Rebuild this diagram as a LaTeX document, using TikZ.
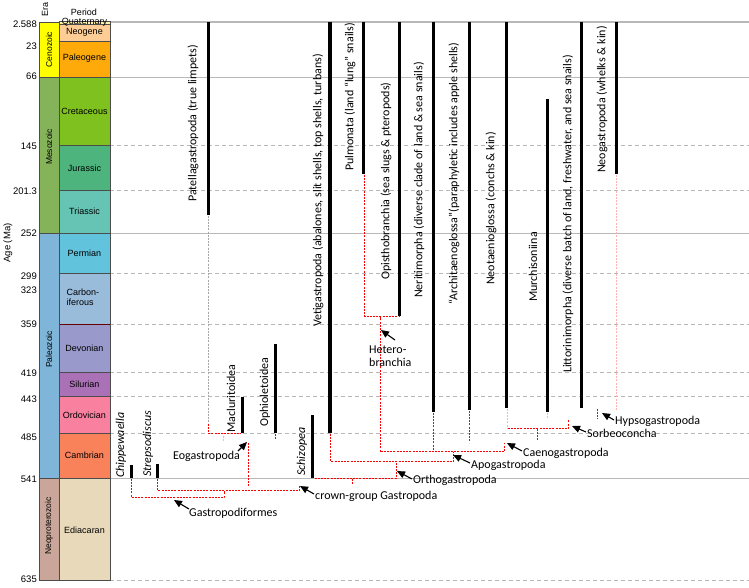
\documentclass[tikz,border=0pt]{standalone}
\usepackage{fontspec}
\setmainfont{Carlito}
\newfontfamily\ars{Liberation Sans}
\usetikzlibrary{arrows.meta}
\definecolor{cQua}{HTML}{FFF2AE}
\definecolor{cNeo}{HTML}{FDCD95}
\definecolor{cPal}{HTML}{FDAA0A}
\definecolor{cCre}{HTML}{7FC11E}
\definecolor{cJur}{HTML}{4DB47E}
\definecolor{cTri}{HTML}{66C4B4}
\definecolor{cPer}{HTML}{62C3DD}
\definecolor{cCar}{HTML}{98BCDA}
\definecolor{cDev}{HTML}{9A99CB}
\definecolor{cSil}{HTML}{AA71B6}
\definecolor{cOrd}{HTML}{FA80A0}
\definecolor{cCam}{HTML}{FA825A}
\definecolor{cEdi}{HTML}{E8D9BB}
\definecolor{eCen}{HTML}{FFFF00}
\definecolor{eMes}{HTML}{85B35A}
\definecolor{ePal}{HTML}{7EB5D9}
\definecolor{eNeo}{HTML}{C9A699}
\begin{document}
\begin{tikzpicture}[x=1pt,y=-1pt,
  per/.style={draw=black!70,line width=0.7pt},
  agel/.style={anchor=east,font=\ars\fontsize{9.5}{10}\selectfont,inner sep=0pt},
  perl/.style={font=\ars\fontsize{9}{10}\selectfont,inner sep=0pt},
  eral/.style={rotate=90,font=\ars\fontsize{8.5}{10}\selectfont,inner sep=0pt},
  taxon/.style={rotate=90,anchor=west,inner sep=0pt,font=\fontsize{12}{14}\selectfont},
  ital/.style={font=\itshape\fontsize{12}{14}\selectfont},
  clade/.style={anchor=west,inner sep=0pt,font=\fontsize{12}{14}\selectfont},
  tbar/.style={line width=3pt},
  crisp/.style={shift={(0.5,0.5)}},
  rdot/.style={crisp,draw=red,line width=1.2pt,dash pattern=on 2pt off 1.2pt},
  pdot/.style={crisp,draw=red!30,line width=1.1pt,dash pattern=on 2pt off 1.2pt},
  gdot/.style={crisp,draw=black!35,line width=1pt,dash pattern=on 2pt off 1.2pt},
  gsolid/.style={draw=black!28,line width=0.9pt},
  gdash/.style={draw=black!28,line width=0.9pt,dash pattern=on 4pt off 3pt},
  arr/.style={-{Triangle[length=8pt,width=7pt]},line width=1.1pt},
]
\useasboundingbox (0,0) rectangle (749,587);
\fill[white] (0,0) rectangle (749,587);

% ---------- grid lines ----------
\draw[gsolid] (110,77) -- (749,77);
\draw[gsolid] (110,233) -- (749,233);
\draw[gsolid] (110,478) -- (749,478);
\foreach \yy in {145,190,273,324,372,396,433,580}
  \draw[gdash] (110,\yy) -- (749,\yy);
\draw[draw=black!28,line width=1.8pt] (108,22) -- (749,22);

% ---------- era column ----------
\draw[per,fill=eCen] (39.5,22) rectangle (59.5,77);
\draw[per,fill=eMes] (39.5,77) rectangle (59.5,233);
\draw[per,fill=ePal] (39.5,233) rectangle (59.5,478);
\draw[per,fill=eNeo] (39.5,478) rectangle (59.5,580);
\node[eral] (cen) at (49,49.5) {Cenozoic};
\node[eral] (mes) at (49,147) {Mesozoic};
\node[eral] (pal) at (49,349.5) {Paleozoic};
\node[eral] (npr) at (49,526) {Neoproterozoic};

% ---------- period column ----------
\draw[per,fill=cNeo] (59.5,24) rectangle (110,41.5);
\draw[per,fill=cPal] (59.5,41.5) rectangle (110,77);
\draw[per,fill=cCre] (59.5,77) rectangle (110,145);
\draw[per,fill=cJur] (59.5,145) rectangle (110,190);
\draw[per,fill=cTri] (59.5,190) rectangle (110,233);
\draw[per,fill=cPer] (59.5,233) rectangle (110,273);
\draw[per,fill=cCar] (59.5,273) rectangle (110,324);
\draw[per,fill=cDev] (59.5,324) rectangle (110,372);
\draw[per,fill=cSil] (59.5,372) rectangle (110,396);
\draw[per,fill=cOrd] (59.5,396) rectangle (110,433);
\draw[per,fill=cCam] (59.5,433) rectangle (110,478);
\draw[per,fill=cEdi] (59.5,478) rectangle (110,580);
\draw[per,fill=cQua] (59.5,21.5) rectangle (110,24);
\draw[draw=black!60!red,line width=0.8pt] (59.5,324) -- (110,324);
\node[perl] (qua) at (84.5,22.5) {Quaternary};
\node[perl] (neo) at (84.5,32.5) {Neogene};
\node[perl] (pgn) at (84.5,58) {Paleogene};
\node[perl] (cre) at (84.5,111) {Cretaceous};
\node[perl] (jur) at (84.5,168) {Jurassic};
\node[perl] (tri) at (84.5,211.5) {Triassic};
\node[perl] (prm) at (84.5,253) {Permian};
\node[perl,anchor=west,align=left] (car) at (66.5,297.5) {Carbon-\\iferous};
\node[perl] (dev) at (84.5,348) {Devonian};
\node[perl] (sil) at (84.5,384) {Silurian};
\node[perl] (ord) at (84.5,415) {Ordovician};
\node[perl] (cam) at (84.5,455) {Cambrian};
\node[perl] (edi) at (84.5,530) {Ediacaran};

% ---------- headers and ages ----------
\node[eral,font=\ars\fontsize{9}{10}\selectfont] (era) at (45,9) {Era};
\node[perl] (period) at (84,12) {Period};
\node[rotate=90,inner sep=0pt,font=\ars\fontsize{9.5}{10}\selectfont] (age) at (8,243) {Age (Ma)};
\node[agel] (a1) at (37,24) {2.588};
\node[agel] (a2) at (37,46) {23};
\node[agel] (a3) at (37,76) {66};
\node[agel] (a4) at (37,146) {145};
\node[agel] (a5) at (37,191) {201.3};
\node[agel] (a6) at (37,233) {252};
\node[agel] (a7) at (37,276) {299};
\node[agel] (a8) at (37,290) {323};
\node[agel] (a9) at (37,324) {359};
\node[agel] (a10) at (37,373) {419};
\node[agel] (a11) at (37,399) {443};
\node[agel] (a12) at (37,437) {485};
\node[agel] (a13) at (37,479) {541};
\node[agel] (a14) at (37,579) {635};

% ---------- cladogram dotted lines ----------
\draw[gdot] (208,215) -- (208,423);
\draw[pdot] (223,435) -- (223,440);
\draw[pdot] (507,408) -- (507,428);
\draw[pdot] (547,412) -- (547,418);
\draw[pdot] (616,174) -- (616,410);
\draw[rdot] (131,478) -- (131,497) -- (224,497) -- (224,490);
\draw[rdot] (157,478) -- (157,490) -- (299,490) -- (299,485);
\draw[rdot] (248,442) -- (248,485);
\draw[rdot] (208,423) -- (208,433) -- (240,433);
\draw[rdot] (275,433) -- (275,438);
\draw[rdot] (314,478) -- (396,478) -- (396,461);
\draw[rdot] (352,478) -- (352,483);
\draw[rdot] (330,433) -- (330,461) -- (453,461) -- (453,451);
\draw[rdot] (380,451) -- (504,451) -- (504,442);
\draw[rdot] (380,451) -- (380,316);
\draw[rdot] (364,174) -- (364,316) -- (399,316);
\draw[rdot] (433,412) -- (433,451);
\draw[rdot] (469,410) -- (469,442);
\draw[rdot] (507,428) -- (568,428) -- (568,419);
\draw[rdot] (537,428) -- (537,440);
\draw[rdot] (597,408) -- (597,418);

% ---------- range bars ----------
\draw[tbar] (131,465) -- (131,478);
\draw[tbar] (157,464) -- (157,478);
\draw[tbar] (208,22) -- (208,215);
\draw[tbar] (242,397) -- (242,433);
\draw[tbar] (275,344) -- (275,433);
\draw[tbar] (312,415) -- (312,478);
\draw[line width=3.5pt] (330,22) -- (330,433);
\draw[tbar] (363,22) -- (363,174);
\draw[tbar] (399,22) -- (399,316);
\draw[tbar] (433,22) -- (433,412);
\draw[tbar] (469,22) -- (469,410);
\draw[tbar] (506,22) -- (506,408);
\draw[tbar] (547,99) -- (547,412);
\draw[tbar] (581,22) -- (581,408);
\draw[tbar] (616,22) -- (616,174);

% ---------- taxon labels ----------
\node[taxon,ital] (chip) at (121,478) {Chippewaella};
\node[taxon,ital] (strep) at (148,477) {Strepsodiscus};
\node[taxon] (maclu) at (231,433) {Macluritoidea};
\node[taxon] (ophio) at (265,427) {Ophioletoidea};
\node[taxon,ital] (schiz) at (302,476) {Schizopea};
\node[taxon] (veti) at (318,327) {Vetigastropoda (abalones, slit shells, top shells, turbans)};
\node[taxon] (patel) at (193,202) {Patellagastropoda (true limpets)};
\node[taxon] (pulmo) at (350,171) {Pulmonata (land “lung” snails)};
\node[taxon] (opist) at (386,280) {Opisthobranchia (sea slugs \& pteropods)};
\node[taxon] (nerit) at (419,298) {Neritimorpha (diverse clade of land \& sea snails)};
\node[taxon] (archi) at (454,305) {“Architaenoglossa”(paraphyletic includes apple shells)};
\node[taxon] (neota) at (491,285) {Neotaenioglossa (conchs \& kin)};
\node[taxon] (murch) at (533,302) {Murchisoniina};
\node[taxon] (litto) at (568,373) {Littorinimorpha (diverse batch of land, freshwater, and sea snails)};
\node[taxon] (neoga) at (602,173) {Neogastropoda (whelks \& kin)};

% ---------- clade labels and arrows ----------
\node[clade] (gpf) at (189,513) {Gastropodiformes};
\node[clade] (crown) at (315,496) {crown-group Gastropoda};
\node[clade] (eogas) at (173,456) {Eogastropoda};
\node[clade] (ortho) at (413,480) {Orthogastropoda};
\node[clade] (apoga) at (471,465) {Apogastropoda};
\node[clade] (caeno) at (523,453) {Caenogastropoda};
\node[clade] (sorbe) at (587,433) {Sorbeoconcha};
\node[clade] (hypso) at (615,421) {Hypsogastropoda};
\node[clade,align=left] (hetero) at (369,356) {Hetero-\\[-1pt]branchia};

\coordinate (gpfT) at (189,509);  \coordinate (gpfH) at (174,500);
\coordinate (crT) at (314,494);   \coordinate (crH) at (300,486);
\coordinate (eoT) at (238,451);   \coordinate (eoH) at (247,442);
\coordinate (orT) at (412,479);   \coordinate (orH) at (397,471);
\coordinate (apT) at (470,463);   \coordinate (apH) at (453,455);
\coordinate (caT) at (522,451);   \coordinate (caH) at (507,443);
\coordinate (soT) at (586,432);   \coordinate (soH) at (572,426);
\coordinate (hyT) at (614,420);   \coordinate (hyH) at (602,413);
\coordinate (heT) at (395,340);   \coordinate (heH) at (381,330);
\draw[arr] (gpfT) -- (gpfH);
\draw[arr] (crT) -- (crH);
\draw[arr] (eoT) -- (eoH);
\draw[arr] (orT) -- (orH);
\draw[arr] (apT) -- (apH);
\draw[arr] (caT) -- (caH);
\draw[arr] (soT) -- (soH);
\draw[arr] (hyT) -- (hyH);
\draw[arr] (heT) -- (heH);
\end{tikzpicture}
\end{document}
